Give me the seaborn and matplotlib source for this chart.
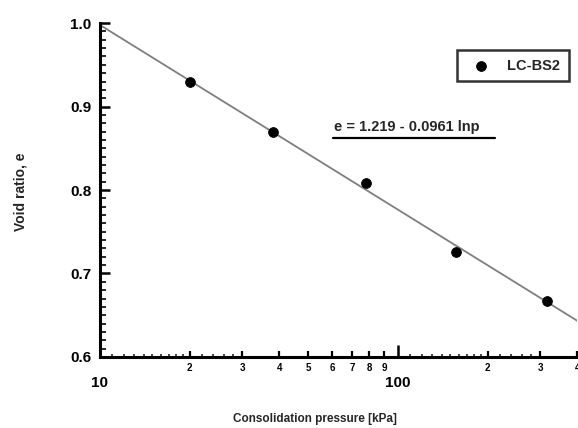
import numpy as np
import pandas as pd
import matplotlib
matplotlib.use("Agg")
import matplotlib.pyplot as plt
import seaborn as sns

# ---- data ----
pressure = [20, 38, 78, 157, 316]          # kPa
void_ratio = [0.930, 0.869, 0.808, 0.726, 0.667]
series_name = "LC-BS2"
fit_intercept = 1.219
fit_slope = 0.0961
fit_range = [10, 400]
major_xticks = [10, 100]
major_xlabels = ["10", "100"]
minor_xticks = [20, 30, 40, 50, 60, 70, 80, 90, 200, 300, 400]
minor_xlabels = ["2", "3", "4", "5", "6", "7", "8", "9", "2", "3", "4"]
tiny_xticks = [11, 12, 13, 14, 15, 16, 17, 18, 19, 22, 24, 26, 28,
               110, 120, 130, 140, 150, 160, 170, 180, 190, 220, 240, 260, 280]
yticks = [0.6, 0.7, 0.8, 0.9, 1.0]
ytick_labels = ["0.6", "0.7", "0.8", "0.9", "1.0"]

sns.set_style("white")
plt.rcParams['font.family'] = ['Liberation Sans', 'DejaVu Sans']

fig = plt.figure(figsize=(5.78, 4.28), dpi=100)
ax = fig.add_axes([0.173, 0.166, 0.826, 0.780])

df = pd.DataFrame({"p": pressure, "e": void_ratio, "s": series_name})
fit_p = np.array(fit_range, dtype=float)
fit_df = pd.DataFrame({"p": fit_p, "e": fit_intercept - fit_slope * np.log(fit_p)})

sns.lineplot(data=fit_df, x="p", y="e", ax=ax, color="#7f7f7f", linewidth=1.3,
             legend=False)
sns.scatterplot(data=df, x="p", y="e", ax=ax, color="black", s=50,
                edgecolor="black", marker="o", label=series_name, zorder=5)

ax.set_xscale("log")
ax.set_xlim(10, 400)
ax.set_ylim(0.6, 1.0)

for s in ["top", "right"]:
    ax.spines[s].set_visible(False)
for s in ["left", "bottom"]:
    ax.spines[s].set_linewidth(2.2)
    ax.spines[s].set_color("black")

ax.set_xticks(major_xticks)
ax.set_xticklabels(major_xlabels)
ax.set_xticks(minor_xticks, minor=True)
ax.set_xticklabels(minor_xlabels, minor=True)
ax.tick_params(axis="x", which="major", direction="in", length=9, width=1.8,
               labelsize=11, pad=14, colors="black", bottom=True)
ax.tick_params(axis="x", which="minor", direction="in", length=4, width=1.6,
               labelsize=7, pad=4, colors="black", bottom=True)
for lbl in ax.get_xticklabels(minor=True):
    lbl.set_fontweight("bold")

sec = ax.secondary_xaxis(0)
sec.set_xticks(tiny_xticks)
sec.set_xticklabels([])
sec.tick_params(direction="in", length=2, width=1.2, bottom=True)
sec.spines["bottom"].set_visible(False)
sec.xaxis.set_minor_locator(matplotlib.ticker.NullLocator())

ax.set_yticks(yticks)
ax.set_yticklabels(ytick_labels)
ax.set_yticks(np.round(np.arange(0.6, 1.0001, 0.01), 2), minor=True)
ax.tick_params(axis="y", which="major", direction="in", length=7, width=1.8,
               labelsize=11, pad=6, colors="black", left=True)
ax.tick_params(axis="y", which="minor", direction="in", length=4, width=1.4,
               left=True)
for lbl in ax.get_yticklabels():
    lbl.set_fontweight("bold")
for lbl in ax.get_xticklabels():
    lbl.set_fontweight("bold")

ax.set_xlabel("")
ax.set_ylabel("")
fig.text(0.545, 0.022, "Consolidation pressure [kPa]", ha="center", va="center",
         fontsize=8.5, fontweight="bold")
fig.text(0.036, 0.552, "Void ratio, e", ha="center", va="center",
         rotation=90, fontsize=10, fontweight="bold")

ax.text(0.49, 0.688, "e = 1.219 - 0.0961 lnp", transform=ax.transAxes,
        fontsize=10.5, fontweight="bold", ha="left", va="center")
ax.plot([0.488, 0.828], [0.657, 0.657], transform=ax.transAxes,
        color="black", linewidth=1.6)

leg = ax.legend(loc="upper right", bbox_to_anchor=(0.982, 0.92), frameon=True,
                fancybox=False, shadow=False, fontsize=10.5, handletextpad=0.8,
                borderpad=0.6, borderaxespad=0.0, markerscale=1.0)
leg.get_frame().set_edgecolor("black")
leg.get_frame().set_linewidth(1.8)
for t in leg.get_texts():
    t.set_fontweight("bold")

fig.savefig("out.png", dpi=100, facecolor="white")
